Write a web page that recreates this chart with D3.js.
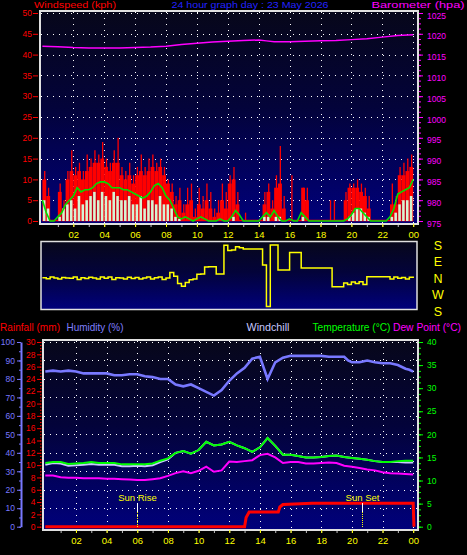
<!DOCTYPE html>
<html><head><meta charset="utf-8">
<script src="https://cdn.jsdelivr.net/npm/d3@7/dist/d3.min.js"></script>
<style>body{margin:0;background:#000;}svg{display:block;}</style>
</head><body>
<script>
// ---------- DATA ----------
const hourTicks = [2,4,6,8,10,12,14,16,18,20,22,24];
const hourLabels = ['02','04','06','08','10','12','14','16','18','20','22','00'];
const windTicks = [0,5,10,15,20,25,30,35,40,45,50];
const baroTicks = [975,980,985,990,995,1000,1005,1010,1015,1020,1025];
const humTicks = [0,10,20,30,40,50,60,70,80,90,100];
const rainTicks = [0,2,4,6,8,10,12,14,16,18,20,22,24,26,28,30];
const tempTicks = [0,5,10,15,20,25,30,35,40];
const dirLabels = ['S','E','N','W','S'];
const dirLabelDeg = [180,90,0,-90,-180];

// wind, 15-minute intervals (hour 0..24)
const gustPeak = [12,8,0,0, 9,5,12,17, 13,14,12,16, 15,17,16,19, 15,14,17,20, 13,12,14,11,
  13,16,13,15, 16,14,15,13, 10,9,6,8, 4,8,9,3, 8,6,9,7, 3,5,9,7,
  11,13,7,0, 2,0,0,0, 0,7,9,5, 11,18,6,0, 11,0,0,8, 8,0,0,0,
  0,0,5,5, 0,0,7,9, 9,10,9,8, 6,0,0,0, 0,0,9,6, 13,14,15,16];
const gustBody = [10,6,0,0, 7,3,10,12, 11,12,10,12, 13,14,14,15, 13,12,14,14, 11,10,11,9,
  11,12,11,12, 13,12,13,11, 9,7,4,5, 2,4,5,1, 4,3,5,3, 1,2,5,3,
  9,10,4,0, 0,0,0,0, 0,4,7,3, 8,9,3,0, 0,0,0,8, 5,0,0,0,
  0,0,0,0, 0,0,5,8, 8,8,7,6, 3,0,0,0, 0,0,4,4, 11,11,12,13];
const windSpeed = [5,3,0,0, 1,3,4,5, 3,6,4,5, 6,7,5,7, 6,5,7,6, 5,5,6,4,
  4,6,3,5, 5,4,6,4, 4,3,1,0.5, 0,0,0,0, 0,0,0,0, 0,0,0,0,
  0,1,0,0, 0,0,0,0, 0,1,1,0, 1,1,0,0, 0,0,0,1, 0,0,0,0,
  0,0,0,0, 0,0,0,1, 2,3,3,2, 1,0,0,0, 0,0,1,2, 4,5,5,6];
const windAvg = [5,2,0,0, 1,2,4,5, 6,8,7,7.5, 7.5,8,9,9.4, 9.4,9,8,8, 8,7.5,7.5,7,
  6.5,6,5.5,6, 7,8.5,9,8, 6,5,3,1, 0.5,1,0.5,0, 0.5,1,0.5,0, 0,0,0.5,0,
  0,1,2.5,1.5, 0,0,0,0, 0,1,2,1, 2.5,1,0,0, 0.5,0,0,2, 1,0,0,0,
  0,0,0,0, 0,0,0,0.5, 1.5,3,3,2, 1,0,0,0, 0,0,1,3, 6.5,7,7.5,8, 10];
const windDir = [2,356,5,0, 354,3,0,358, 6,352,2,357, 4,0,355,5, 358,6,352,2, 0,355,4,357,
  3,354,0,6, 355,2,5,352, 0,30,10,330, 315,335,350,355, 20,22,60,62, 62,22,22,178,
  150,153,170,165, 158,158,158,158, 158,71,204,180, 180,43,43,43, 139,139,139,55, 55,55,55,55,
  55,55,55,312, 312,312,333,325, 338,330,340,325, 7,7,7,7, 7,7,355,5, 358,3,355,4, 0];

const baroHours = [0,1,2,3,4,5,6,7,8,9,10,11,12,13,14,14.5,15,16,17,18,19,20,21,22,23,24];
const baro = [1017.0,1016.9,1016.7,1016.6,1016.6,1016.6,1016.7,1016.8,1017.0,1017.4,1017.7,1018.0,1018.2,
  1018.4,1018.5,1018.3,1018.1,1018.1,1018.2,1018.3,1018.4,1018.6,1018.8,1019.2,1019.6,1019.8];

// half-hourly bottom panel
const humidity = [84,84.5,84,84.5,84,83,83,83,83,82,82,82.5,82.5,81.5,81,80,80,77,76,77,75,73,71,74,
  79,83,86,91,92,80,89,91.5,92.5,92.5,92.5,92.5,92.5,92,92,92,90,89,89,90,89,88.5,88.5,87.5,85.5,85,84];
const humHours = [0,0.5,1,1.5,2,2.5,3,3.5,4,4.5,5,5.5,6,6.5,7,7.5,8,8.5,9,9.5,10,10.5,11,11.5,
  12,12.5,13,13.5,14,14.5,15,15.5,16,16.5,17,17.5,18,18.5,19,19.5,19.75,20,20.5,21,21.5,22,22.5,23,23.5,23.75,24];
const temperature = [13.8,14,14,13.6,13.7,13.8,14,13.8,13.8,13.8,13.5,13.5,13.5,13.5,13.7,14.3,14.8,16,16.4,15.8,
  16.6,18.4,17.6,17.8,18.4,17.6,17,16.2,17.2,19.2,17.5,15.6,15.6,15.3,15,15,15.1,15.3,15.4,15.1,14.9,14.7,14.5,14.2,14,14,14.2,14.3,14.3];
const windchill = [13.4,13.8,13.7,13.2,13.3,13.4,13.6,13.4,13.4,13.4,13.1,13.1,13.2,13.1,13.3,14.0,14.6,16,16.4,15.8,
  16.6,18.4,17.6,17.8,18.4,17.6,17,16.2,17.2,19.2,17.5,15.6,15.6,15.3,15,15,15.1,15.3,15.4,15.1,14.9,14.7,14.5,14.2,14,14,14.0,13.9,13.9];
const dewPoint = [11.1,11.1,10.7,10.6,10.6,10.5,10.5,10.5,10.4,10.4,10.3,10.2,10.1,10.1,10.3,10.5,11.0,11.6,12,11.6,
  12.1,13,11.9,12.2,14.1,14,14.2,14.4,15.5,15.8,15,13.8,14,14,13.7,13.7,13.8,13.9,13.8,13.2,13,12.7,12.4,12.2,11.8,11.6,11.5,11.4,11.3];
const rainHours = [0,13.0,13.1,13.3,15.2,15.3,15.5,17.4,24.0,24.05];
const rainfall = [0,0,1.5,2.4,2.4,3.2,3.6,3.8,3.8,0];
const sunEvents = ['Sun Rise','Sun Set'];
const sunHours = [6.0,20.67];

// ---------- LAYOUT ----------
const FONT = '"Liberation Sans", Arial, sans-serif';
const svg = d3.select('body').append('svg').attr('width',467).attr('height',555).style('background','#000');
const defs = svg.append('defs');
const g1 = defs.append('linearGradient').attr('id','bg').attr('x1',0).attr('y1',0).attr('x2',0).attr('y2',1);
g1.append('stop').attr('offset','0%').attr('stop-color','#07071a');
g1.append('stop').attr('offset','45%').attr('stop-color','#03033a');
g1.append('stop').attr('offset','100%').attr('stop-color','#00007c');

const fifteen = d3.range(97).map(i => i*0.25);
const halfHours = d3.range(49).map(i => i*0.5);

// scales
const xTop = d3.scaleLinear().domain([0,24]).range([42.4,413.2]);
const yWind = d3.scaleLinear().domain([0,50]).range([221,13]);
const yBaro = d3.scaleLinear().domain([975,1025]).range([221,13]);
const yDir = d3.scaleLinear().domain([180,-180]).range([245,311]);
const xBot = d3.scaleLinear().domain([0,24]).range([45.3,413.2]);
const yHum = d3.scaleLinear().domain([0,100]).range([526.7,342]);
const yRain = d3.scaleLinear().domain([0,30]).range([526.7,342]);
const yTemp = d3.scaleLinear().domain([0,40]).range([526.7,342]);

function clip(id,x,y,w,h){defs.append('clipPath').attr('id',id).append('rect').attr('x',x).attr('y',y).attr('width',w).attr('height',h);}
clip('c1',41,12,376,211); clip('c2',41.5,242,375,67); clip('c3',44,341,373,188);

function dotted(g,x1,y1,x2,y2){g.append('line').attr('x1',x1).attr('y1',y1).attr('x2',x2).attr('y2',y2)
  .attr('stroke','#fff').attr('stroke-width',1).attr('stroke-dasharray','1,5');}

function styleAxis(sel,color,size){
  sel.selectAll('path.domain').remove();
  sel.selectAll('line').attr('stroke',color);
  sel.selectAll('text').attr('fill',color).attr('font-family',FONT).attr('font-size',size);
  return sel;
}
function header(x,y,txt,color,len,fs){svg.append('text').attr('x',x).attr('y',y).text(txt).attr('fill',color)
  .attr('font-family',FONT).attr('font-size',fs).attr('textLength',len).attr('lengthAdjust','spacingAndGlyphs');}
const fmtD = d3.format('d');

// ---------- TOP PANEL ----------
header(34,8.4,'Windspeed (kph)','#ff0000',82,9.2);
header(171.5,8.4,'24 hour graph day : 23 May 2026','#2222ff',157,9.2);
header(371.5,8.4,'Barometer (hpa)','#ff00ff',93,9.2);

svg.append('rect').attr('x',40).attr('y',11).attr('width',378).attr('height',213).attr('fill','url(#bg)');
const p1 = svg.append('g').attr('clip-path','url(#c1)');
windTicks.slice(1).forEach(v=>dotted(p1,41,Math.round(yWind(v))+0.5,417,Math.round(yWind(v))+0.5));
hourTicks.forEach(h=>dotted(p1,Math.round(xTop(h))+0.5,12,Math.round(xTop(h))+0.5,223));
const bw = xTop(0.25)-xTop(0);
p1.selectAll('rect.gb').data(gustBody).join('rect').attr('x',(d,i)=>xTop(fifteen[i])).attr('width',bw)
  .attr('y',d=>yWind(d)).attr('height',d=>yWind(0)-yWind(d)).attr('fill','#ff0000');
p1.selectAll('line.gp').data(gustPeak).join('line').attr('x1',(d,i)=>xTop(fifteen[i])+bw*0.6).attr('x2',(d,i)=>xTop(fifteen[i])+bw*0.6)
  .attr('y1',d=>yWind(d)).attr('y2',yWind(0)).attr('stroke','#ff0000').attr('stroke-width',1.3);
p1.append('line').attr('x1',xTop(0)).attr('x2',xTop(24)).attr('y1',yWind(0)-0.5).attr('y2',yWind(0)-0.5).attr('stroke','#ff0000').attr('stroke-width',1.5);
p1.selectAll('rect.ws').data(windSpeed).join('rect').attr('x',(d,i)=>xTop(fifteen[i])+0.5).attr('width',bw-1.3)
  .attr('y',d=>yWind(d)).attr('height',d=>yWind(0)-yWind(d)).attr('fill','#d4f4d4');
p1.append('path').datum(windAvg).attr('d',d3.line().x((d,i)=>xTop(fifteen[i])).y(d=>yWind(d)))
  .attr('fill','none').attr('stroke','#00e000').attr('stroke-width',1.6);
p1.append('path').datum(baro).attr('d',d3.line().x((d,i)=>xTop(baroHours[i])).y(d=>yBaro(d)))
  .attr('fill','none').attr('stroke','#ff00ff').attr('stroke-width',1.5);
svg.append('rect').attr('x',40).attr('y',11).attr('width',378).attr('height',213).attr('fill','none').attr('stroke','#e0e0e0').attr('stroke-width',2);

styleAxis(svg.append('g').attr('transform','translate(38,0)').call(d3.axisLeft(yWind).tickValues(windTicks).tickSize(5).tickSizeOuter(0).tickPadding(1).tickFormat(fmtD)),'#ff0000',8.5);
styleAxis(svg.append('g').attr('transform','translate(419,0)').call(d3.axisRight(yBaro).tickValues(d3.range(975,1025.1,1.25)).tickSize(2).tickSizeOuter(0).tickFormat('')),'#ff00ff',8);
styleAxis(svg.append('g').attr('transform','translate(419,0)').call(d3.axisRight(yBaro).tickValues(baroTicks).tickSize(4).tickSizeOuter(0).tickPadding(4).tickFormat(fmtD)),'#ff00ff',8.5)
  .selectAll('text').attr('dy','0.6em');
styleAxis(svg.append('g').attr('transform','translate(0,225)').call(d3.axisBottom(xTop).tickValues(d3.range(1,25)).tickSize(2).tickSizeOuter(0).tickFormat('')),'#c0c0c0',8);
styleAxis(svg.append('g').attr('transform','translate(0,224)').call(d3.axisBottom(xTop).tickValues(hourTicks).tickSize(3).tickSizeOuter(0).tickPadding(4).tickFormat((d,i)=>hourLabels[i])),'#ffff00',9.5);

// ---------- MIDDLE PANEL ----------
svg.append('rect').attr('x',41).attr('y',241.5).attr('width',376).attr('height',68).attr('fill','url(#bg)');
const p2 = svg.append('g').attr('clip-path','url(#c2)');
p2.append('path').datum(windDir).attr('d',d3.line().curve(d3.curveStepAfter).x((d,i)=>xTop(fifteen[i])).y(d=>yDir(d>180?d-360:d)))
  .attr('fill','none').attr('stroke','#ffff00').attr('stroke-width',1.5);
svg.append('rect').attr('x',41).attr('y',241.5).attr('width',376).attr('height',68).attr('fill','none').attr('stroke','#e0e0e0').attr('stroke-width',1.5);
dirLabels.forEach((t,i)=>svg.append('text').attr('x',438).attr('y',yDir(dirLabelDeg[i])).attr('dy','0.36em').attr('text-anchor','middle')
  .text(t).attr('fill','#ffff00').attr('font-family',FONT).attr('font-size',12.5));

// ---------- BOTTOM PANEL ----------
header(0,331,'Rainfall (mm)','#ff0000',60,10.5);
header(66.5,331,'Humidity (%)','#7f7fff',57,10.5);
header(246.5,331,'Windchill','#c8c8ff',43,10.5);
header(312.5,331,'Temperature (\u00b0C)','#00ff00',78,10);
header(393,331,'Dew Point (\u00b0C)','#ff00ff',68,10);

svg.append('rect').attr('x',43).attr('y',340).attr('width',375).attr('height',190).attr('fill','url(#bg)');
const p3 = svg.append('g').attr('clip-path','url(#c3)');
humTicks.slice(1).forEach(v=>dotted(p3,44,Math.round(yHum(v))+0.5,417,Math.round(yHum(v))+0.5));
hourTicks.forEach(h=>dotted(p3,Math.round(xBot(h))+0.5,341,Math.round(xBot(h))+0.5,529));
p3.append('path').datum(rainfall).attr('d',d3.line().x((d,i)=>xBot(rainHours[i])).y(d=>yRain(d)))
  .attr('fill','none').attr('stroke','#ff0000').attr('stroke-width',3);
const tLine = d3.line().x((d,i)=>xBot(halfHours[i])).y(d=>yTemp(d));
p3.append('path').datum(windchill).attr('d',tLine).attr('fill','none').attr('stroke','#c8c8ff').attr('stroke-width',2);
p3.append('path').datum(temperature).attr('d',tLine).attr('fill','none').attr('stroke','#00ff00').attr('stroke-width',2);
p3.append('path').datum(dewPoint).attr('d',tLine).attr('fill','none').attr('stroke','#ff00ff').attr('stroke-width',2);
p3.append('path').datum(humidity).attr('d',d3.line().x((d,i)=>xBot(humHours[i])).y(d=>yHum(d))).attr('fill','none').attr('stroke','#7878ff').attr('stroke-width',2.6);
sunEvents.forEach((t,i)=>{
  const x = Math.round(xBot(sunHours[i]))+0.5;
  p3.append('line').attr('x1',x).attr('x2',x).attr('y1',503).attr('y2',512).attr('stroke','#fff').attr('stroke-width',1);
  p3.append('line').attr('x1',x).attr('x2',x).attr('y1',512).attr('y2',528).attr('stroke','#ffff00').attr('stroke-width',1).attr('stroke-dasharray','1,1');
  svg.append('text').attr('x',x).attr('y',501).attr('text-anchor','middle').text(t).attr('fill','#ffff00').attr('font-family',FONT).attr('font-size',9.5);
});
svg.append('rect').attr('x',43).attr('y',340).attr('width',375).attr('height',190).attr('fill','none').attr('stroke','#e0e0e0').attr('stroke-width',2);

const hAx = svg.append('g').attr('transform','translate(21,0)');
hAx.call(d3.axisLeft(yHum).tickValues(d3.range(0,100.1,5)).tickSize(2).tickSizeOuter(0).tickFormat(''));
hAx.append('g').call(d3.axisLeft(yHum).tickValues(humTicks).tickSize(4).tickSizeOuter(0).tickPadding(2).tickFormat(fmtD));
hAx.selectAll('g g path.domain').remove();
hAx.selectAll('line').attr('stroke','#7878ff');
hAx.selectAll('path.domain').attr('stroke','#7878ff').attr('stroke-width',2);
hAx.selectAll('text').attr('fill','#7878ff').attr('font-family',FONT).attr('font-size',8.5);
styleAxis(svg.append('g').attr('transform','translate(41.5,0)').call(d3.axisLeft(yRain).tickValues(d3.range(0,30.1,0.5)).tickSize(1.5).tickSizeOuter(0).tickFormat('')),'#ff0000',8);
styleAxis(svg.append('g').attr('transform','translate(41,0)').call(d3.axisLeft(yRain).tickValues(rainTicks).tickSize(4).tickSizeOuter(0).tickPadding(1.5).tickFormat(fmtD)),'#ff0000',8.5);
styleAxis(svg.append('g').attr('transform','translate(419,0)').call(d3.axisRight(yTemp).tickValues(d3.range(0,40.1,1.25)).tickSize(2).tickSizeOuter(0).tickFormat('')),'#00ff00',8);
styleAxis(svg.append('g').attr('transform','translate(419,0)').call(d3.axisRight(yTemp).tickValues(tempTicks).tickSize(4).tickSizeOuter(0).tickPadding(4).tickFormat(fmtD)),'#00ff00',8.5);
styleAxis(svg.append('g').attr('transform','translate(0,531)').call(d3.axisBottom(xBot).tickValues(d3.range(1,25)).tickSize(2).tickSizeOuter(0).tickFormat('')),'#c0c0c0',8);
styleAxis(svg.append('g').attr('transform','translate(0,530)').call(d3.axisBottom(xBot).tickValues(hourTicks).tickSize(3).tickSizeOuter(0).tickPadding(4).tickFormat((d,i)=>hourLabels[i])),'#ffff00',9.5);
</script>
</body></html>
